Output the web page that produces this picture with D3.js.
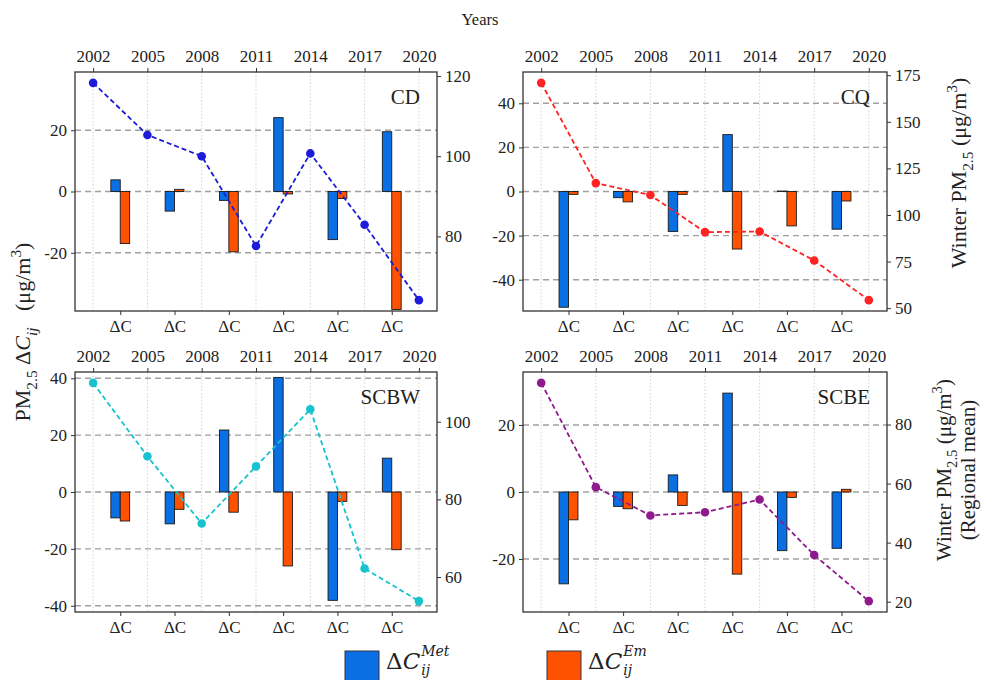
<!DOCTYPE html>
<html>
<head>
<meta charset="utf-8">
<script src="https://cdn.jsdelivr.net/npm/d3@7"></script>
<style>
  html, body { margin: 0; padding: 0; background: #fff; }
  svg { display: block; }
  text { font-family: "Liberation Serif", "Times New Roman", serif; fill: #222; }
</style>
</head>
<body>
<svg id="chart" width="981" height="680"></svg>
<script>
// Sampling years of winter PM2.5 and the six inter-period changes between them
const years = [2002, 2005, 2008, 2011, 2014, 2017, 2020];
const periodLabels = ["ΔC", "ΔC", "ΔC", "ΔC", "ΔC", "ΔC"];

// Chengdu (CD)
const cdPM  = [118.3, 105.3, 100.0, 77.6, 100.7, 82.9, 64.1];
const cdMet = [3.8, -6.4, -2.9, 24.1, -15.7, 19.5];
const cdEm  = [-17.0, 0.7, -19.7, -0.8, -2.3, -38.5];
const cdLeftTicks  = [-20, 0, 20];
const cdRightTicks = [80, 100, 120];

// Chongqing (CQ)
const cqPM  = [170.9, 117.1, 110.7, 90.8, 91.1, 75.6, 54.3];
const cqMet = [-52.5, -2.8, -18.1, 25.8, 0.2, -17.1];
const cqEm  = [-1.3, -4.7, -1.3, -26.1, -15.6, -4.3];
const cqLeftTicks  = [-40, -20, 0, 20, 40];
const cqRightTicks = [50, 75, 100, 125, 150, 175];

// Western Sichuan Basin (SCBW)
const scbwPM  = [110.0, 91.1, 73.8, 88.5, 103.2, 62.2, 53.8];
const scbwMet = [-9.1, -11.2, 21.8, 40.3, -38.1, 11.9];
const scbwEm  = [-10.2, -6.1, -7.1, -26.0, -3.3, -20.3];
const scbwLeftTicks  = [-40, -20, 0, 20, 40];
const scbwRightTicks = [60, 80, 100];

// Eastern Sichuan Basin (SCBE)
const scbePM  = [94.1, 58.8, 49.2, 50.3, 54.6, 35.8, 20.2];
const scbeMet = [-27.4, -4.3, 5.1, 29.5, -17.5, -16.8];
const scbeEm  = [-8.3, -5.0, -4.0, -24.5, -1.6, 0.8];
const scbeLeftTicks  = [-20, 0, 20];
const scbeRightTicks = [20, 40, 60, 80];

const metColor = "#0a6fe3";
const emColor  = "#ff5200";
const serif = "'Liberation Serif', 'Times New Roman', serif";
const mathSerif = "'DejaVu Serif', serif";

const panels = [
  { name: "CD",   pm: cdPM,   met: cdMet,   em: cdEm,   lt: cdLeftTicks,   rt: cdRightTicks,   lim: 39.0, line: "#1c1cd8", x0: 75,  x1: 437, y0: 72,  y1: 311 },
  { name: "CQ",   pm: cqPM,   met: cqMet,   em: cqEm,   lt: cqLeftTicks,   rt: cqRightTicks,   lim: 54.2, line: "#ff2222", x0: 523, x1: 887, y0: 72,  y1: 311 },
  { name: "SCBW", pm: scbwPM, met: scbwMet, em: scbwEm, lt: scbwLeftTicks, rt: scbwRightTicks, lim: 42.2, line: "#16c3cf", x0: 75,  x1: 437, y0: 372, y1: 612 },
  { name: "SCBE", pm: scbePM, met: scbeMet, em: scbeEm, lt: scbeLeftTicks, rt: scbeRightTicks, lim: 35.8, line: "#8e1a8e", x0: 523, x1: 887, y0: 372, y1: 612 }
];

const svg = d3.select("#chart");
const barW = 0.52;   // bar width in years
const fs = 17;       // tick label size

// writes a run of text pieces with sub/superscripts into a <text>
function rich(sel, segs, size) {
  let cur = 0;
  segs.forEach(s => {
    const shift = s.sub ? size * 0.3 : s.sup ? -size * 0.42 : 0;
    const ts = sel.append("tspan").text(s.t).attr("dy", shift - cur);
    cur = shift;
    if (s.sub || s.sup) ts.attr("font-size", size * 0.7);
    if (s.it) ts.attr("font-style", "italic");
  });
}

panels.forEach(p => {
  const g = svg.append("g");
  const x = d3.scaleLinear().domain([2001, 2021]).range([p.x0, p.x1]);
  const y = d3.scaleLinear().domain([-p.lim, p.lim]).range([p.y1, p.y0]);
  const ext = d3.extent(p.pm);
  const pad = (ext[1] - ext[0]) * 0.05;
  const yr = d3.scaleLinear().domain([ext[0] - pad, ext[1] + pad]).range([p.y1, p.y0]);
  const mids = d3.pairs(years).map(([a, b]) => (a + b) / 2);

  // vertical dotted year grid
  g.selectAll(".vg").data(years).join("line")
    .attr("x1", d => x(d)).attr("x2", d => x(d))
    .attr("y1", p.y0).attr("y2", p.y1)
    .attr("stroke", "#c8c8c8").attr("stroke-width", 0.8).attr("stroke-dasharray", "1.5,2");

  // horizontal dashed grid at left ticks
  g.selectAll(".hg").data(p.lt).join("line")
    .attr("x1", p.x0).attr("x2", p.x1)
    .attr("y1", d => y(d)).attr("y2", d => y(d))
    .attr("stroke", "#a0a0a0").attr("stroke-width", 1.4).attr("stroke-dasharray", "6,4");

  // meteorology-driven changes
  g.selectAll(".bm").data(p.met).join("rect")
    .attr("x", (d, i) => x(mids[i] - barW)).attr("width", (d, i) => x(mids[i]) - x(mids[i] - barW))
    .attr("y", d => y(Math.max(0, d))).attr("height", d => Math.abs(y(d) - y(0)))
    .attr("fill", metColor).attr("stroke", "#1a1a1a").attr("stroke-width", 0.9);

  // emission-driven changes
  g.selectAll(".be").data(p.em).join("rect")
    .attr("x", (d, i) => x(mids[i])).attr("width", (d, i) => x(mids[i] + barW) - x(mids[i]))
    .attr("y", d => y(Math.max(0, d))).attr("height", d => Math.abs(y(d) - y(0)))
    .attr("fill", emColor).attr("stroke", "#1a1a1a").attr("stroke-width", 0.9);

  // winter PM2.5 series on the right axis
  g.append("path").datum(p.pm)
    .attr("d", d3.line().x((d, i) => x(years[i])).y(d => yr(d)))
    .attr("fill", "none").attr("stroke", p.line).attr("stroke-width", 1.8).attr("stroke-dasharray", "5,3");
  g.selectAll(".pt").data(p.pm).join("circle")
    .attr("cx", (d, i) => x(years[i])).attr("cy", d => yr(d)).attr("r", 4.3)
    .attr("fill", p.line);

  // frame
  g.append("rect").attr("x", p.x0).attr("y", p.y0)
    .attr("width", p.x1 - p.x0).attr("height", p.y1 - p.y0)
    .attr("fill", "none").attr("stroke", "#333").attr("stroke-width", 1.3);

  // top axis: years
  const top = d3.axisTop(x).tickValues(years).tickFormat(d3.format("d")).tickSize(4).tickPadding(6);
  const gt = g.append("g").attr("transform", `translate(0,${p.y0})`).call(top);
  // bottom axis: periods
  const bot = d3.axisBottom(x).tickValues(mids).tickFormat((d, i) => periodLabels[i]).tickSize(4).tickPadding(5);
  const gb = g.append("g").attr("transform", `translate(0,${p.y1})`).call(bot);
  // left axis: concentration change
  const left = d3.axisLeft(y).tickValues(p.lt).tickFormat(d3.format("d")).tickSize(4).tickPadding(4);
  const gl = g.append("g").attr("transform", `translate(${p.x0},0)`).call(left);
  // right axis: winter PM2.5
  const right = d3.axisRight(yr).tickValues(p.rt).tickFormat(d3.format("d")).tickSize(4).tickPadding(4);
  const gr = g.append("g").attr("transform", `translate(${p.x1},0)`).call(right);

  [gt, gb, gl, gr].forEach(a => {
    a.attr("font-family", null).style("font-family", serif).attr("font-size", fs);
    a.select(".domain").remove();
    a.selectAll(".tick line").attr("stroke", "#333").attr("stroke-width", 1);
    a.selectAll(".tick text").style("font-family", serif).attr("font-size", fs).attr("fill", "#222");
  });
  gl.selectAll(".tick text").text(d => d < 0 ? "-" + Math.abs(d) : d);

  // region name
  g.append("text").attr("x", p.x1 - 17).attr("y", p.y0 + 32)
    .attr("text-anchor", "end").attr("font-size", 21).text(p.name);
});

// shared titles
svg.append("text").attr("x", 480).attr("y", 25).attr("text-anchor", "middle")
  .attr("font-size", 16.5).text("Years");

rich(svg.append("text").attr("transform", "translate(30,332) rotate(-90)")
  .attr("text-anchor", "middle").attr("font-size", 22).style("white-space", "pre"),
  [{ t: "PM" }, { t: "2.5", sub: 1 }, { t: " Δ" }, { t: "C", it: 1 }, { t: "ij", sub: 1, it: 1 },
   { t: "   (μg/m" }, { t: "3", sup: 1 }, { t: ")" }], 22);

rich(svg.append("text").attr("transform", "translate(966,173) rotate(-90)")
  .attr("text-anchor", "middle").attr("font-size", 22),
  [{ t: "Winter PM" }, { t: "2.5", sub: 1 }, { t: " (μg/m" }, { t: "3", sup: 1 }, { t: ")" }], 22);

rich(svg.append("text").attr("transform", "translate(951,470) rotate(-90)")
  .attr("text-anchor", "middle").attr("font-size", 21),
  [{ t: "Winter PM" }, { t: "2.5", sub: 1 }, { t: " (μg/m" }, { t: "3", sup: 1 }, { t: ")" }], 21);
svg.append("text").attr("transform", "translate(975,470) rotate(-90)")
  .attr("text-anchor", "middle").attr("font-size", 21).text("(Regional mean)");

// legend
const legendItems = [
  { color: metColor, sup: "Met", x: 345 },
  { color: emColor,  sup: "Em",  x: 547 }
];
legendItems.forEach(l => {
  svg.append("rect").attr("x", l.x).attr("y", 651).attr("width", 34).attr("height", 34)
    .attr("fill", l.color).attr("stroke", "#334").attr("stroke-width", 1);
  const t = svg.append("text").attr("x", l.x + 41).attr("y", 669)
    .attr("font-size", 23).style("font-family", mathSerif);
  t.append("tspan").text("Δ");
  t.append("tspan").text("C").attr("font-style", "italic");
  const w = t.node().getComputedTextLength();
  svg.append("text").attr("x", l.x + 42 + w).attr("y", 656)
    .attr("font-size", 14).attr("font-style", "italic").style("font-family", mathSerif).text(l.sup);
  svg.append("text").attr("x", l.x + 42 + w).attr("y", 675)
    .attr("font-size", 14).attr("font-style", "italic").style("font-family", mathSerif).text("ij");
});
</script>
</body>
</html>
